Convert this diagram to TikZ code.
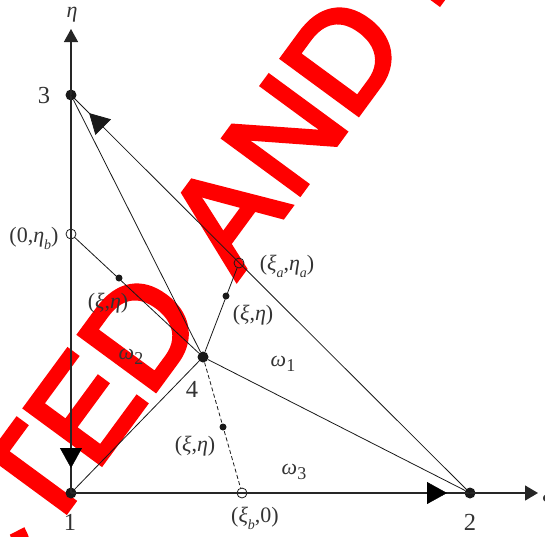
\documentclass[tikz,border=0pt]{standalone}
\usepackage{fontspec}
\setmainfont{Liberation Serif}
\newfontfamily\wmfont[FakeBold=3.5]{Liberation Sans}
\usetikzlibrary{arrows.meta,decorations.markings}
\tikzset{
  axisline/.style={line width=1.3pt, draw=black!85},
  edgeline/.style={line width=0.8pt, draw=black!90},
  bigdot/.style={circle, fill=black!90, inner sep=0pt, minimum size=11pt},
  smalldot/.style={circle, fill=black!90, inner sep=0pt, minimum size=7pt},
  opendot/.style={circle, draw=black!90, line width=0.8pt, inner sep=0pt, minimum size=10pt},
  lbl/.style={font=\fontsize{22}{24}\selectfont, inner sep=0pt, text=black!80},
  numlbl/.style={font=\fontsize{24.5}{26}\selectfont, inner sep=0pt, text=black!80},
  bigtip/.style={decoration={markings, mark=at position #1 with {\arrow{Triangle[length=20pt,width=22pt]}}}, postaction={decorate}}
}
\newcommand{\sbs}[1]{\raisebox{-0.32em}{\fontsize{14}{14}\selectfont\itshape #1}}
\begin{document}
\begin{tikzpicture}[x=1pt,y=-1pt]
\useasboundingbox (0,0) rectangle (545,536);
% watermark
\begin{scope}
\clip (0,0) rectangle (545,536);
\node[rotate=53.7, text=red, font=\wmfont\fontsize{137}{137}\selectfont, inner sep=0pt] (wm) at (284.5,135) {\llap{CTED\hspace{0.36em}A\kern4pt}N\rlap{D R}};
\end{scope}
% nodes
\node[bigdot] (n1) at (71,493) {};
\node[bigdot] (n2) at (470,493) {};
\node[bigdot] (n3) at (71,95) {};
\node[bigdot] (n4) at (203,357) {};
\node[opendot] (etab) at (71,234) {};
\node[opendot] (xia) at (239,263) {};
\node[opendot] (xib) at (242,493) {};
\node[smalldot] (p1) at (119,278) {};
\node[smalldot] (p2) at (226,296) {};
\node[smalldot] (p3) at (223,427) {};
\coordinate (xiend) at (538,493);
\coordinate (etaend) at (71,29);
% axes
\draw[axisline, -{Triangle[length=13pt,width=15pt]}] (n1.center) -- (xiend);
\draw[axisline, -{Triangle[length=13pt,width=14pt]}] (n1.center) -- (etaend);
\path[bigtip=376pt] (n1.center) -- (xiend);
\path[bigtip=373pt] (n3.center) -- (n1.center);
% edges
\draw[edgeline, bigtip=538pt] (n2.center) -- (n3.center);
\draw[edgeline] (n3) -- (n4);
\draw[edgeline] (n1) -- (n4);
\draw[edgeline] (n2) -- (n4);
\draw[edgeline] (etab) -- (n4);
\draw[edgeline] (xia) -- (n4);
\draw[edgeline, dash pattern=on 4pt off 2.5pt] (n4) -- (xib);
% labels
\node[lbl] (leta) at (72,15) {\itshape η};
\node[lbl] (lxi) at (547,497) {\itshape ξ};
\node[numlbl] (l3) at (44,96) {3};
\node[numlbl] (l1) at (70,522) {1};
\node[numlbl] (l2) at (470,522) {2};
\node[numlbl] (l4) at (192,389) {4};
\node[lbl] (letab) at (34,238) {(0,\textit{η}\sbs{b})};
\node[lbl] (lp1) at (108,303) {(\textit{ξ},\textit{η})};
\node[lbl] (lxia) at (287,266) {(\textit{ξ}\sbs{a},\textit{η}\sbs{a})};
\node[lbl] (lp2) at (253,315) {(\textit{ξ},\textit{η})};
\node[lbl] (lp3) at (195,446) {(\textit{ξ},\textit{η})};
\node[lbl] (lxib) at (255,518) {(\textit{ξ}\sbs{b},0)};
\node[lbl] (lw1) at (283,364) {\textit{ω}\raisebox{-0.25em}{\fontsize{18}{18}\selectfont 1}};
\node[lbl] (lw2) at (131,357) {\textit{ω}\raisebox{-0.25em}{\fontsize{18}{18}\selectfont 2}};
\node[lbl] (lw3) at (294,472) {\textit{ω}\raisebox{-0.25em}{\fontsize{18}{18}\selectfont 3}};
\end{tikzpicture}
\end{document}
